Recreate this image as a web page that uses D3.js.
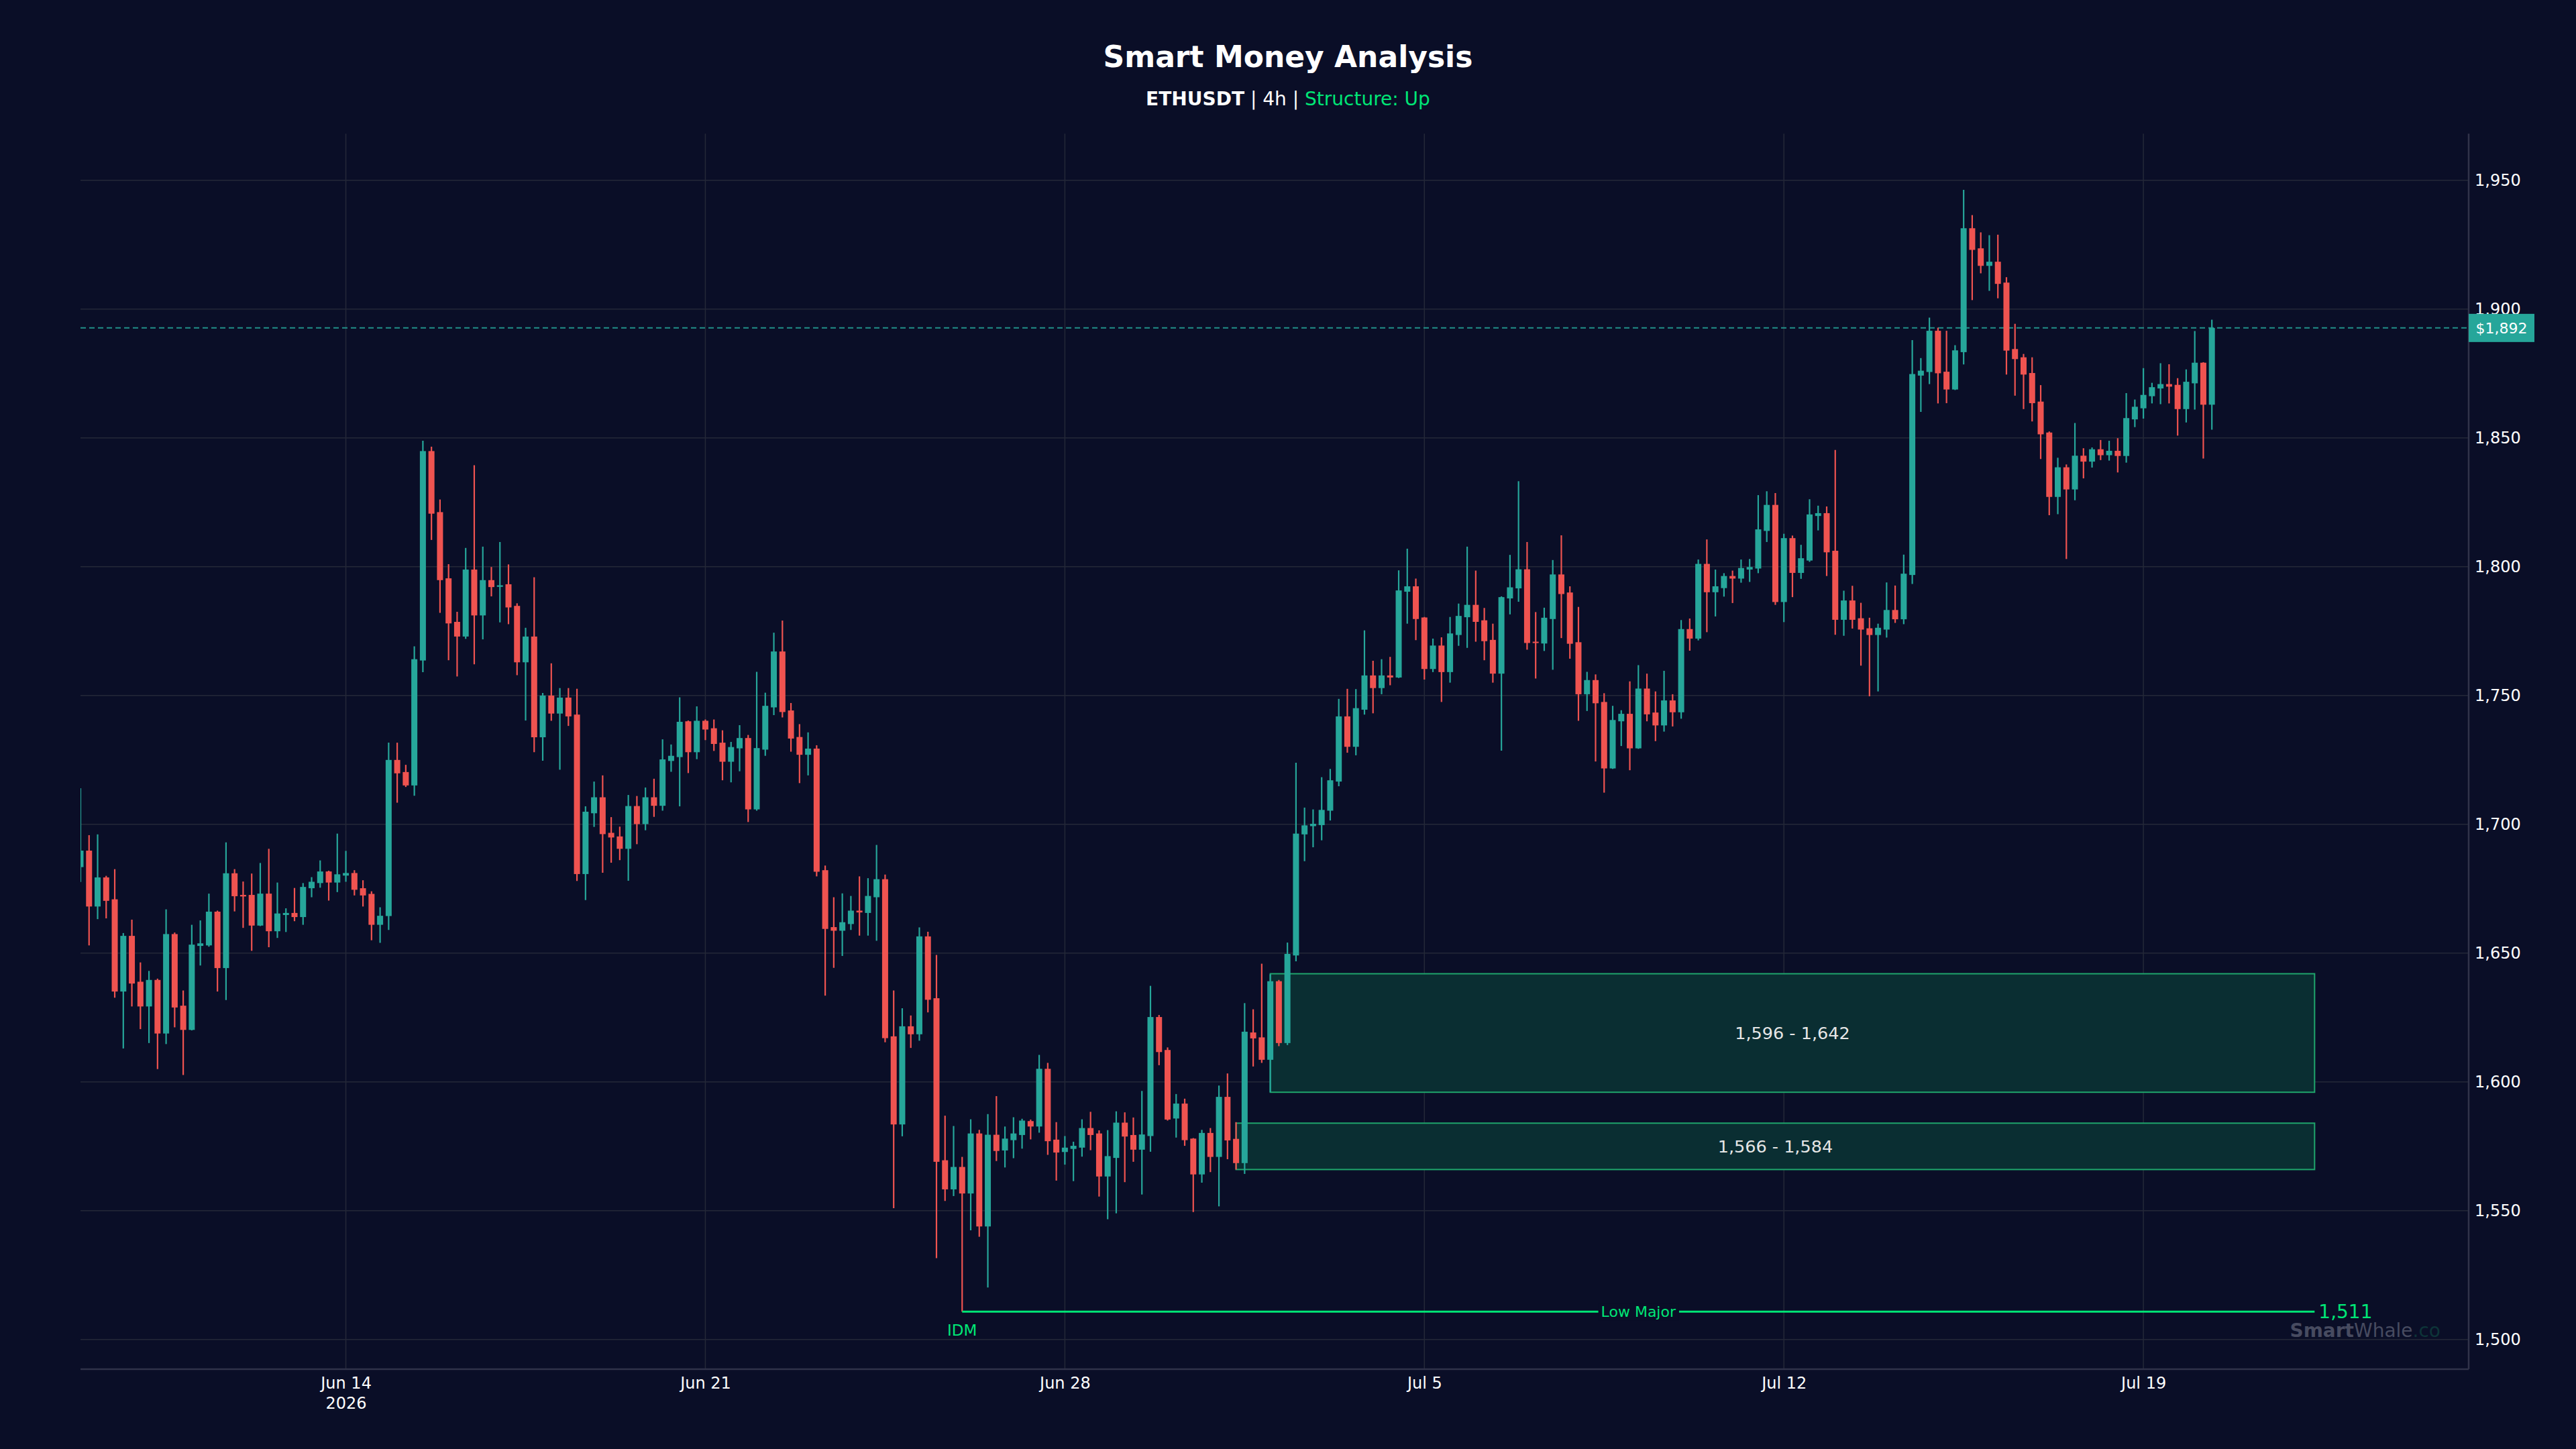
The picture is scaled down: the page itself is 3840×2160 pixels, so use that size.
<!DOCTYPE html>
<html>
<head>
<meta charset="utf-8">
<script src="https://cdn.jsdelivr.net/npm/d3@7"></script>
<style>
body { margin: 0; background: #0a0e27; }
text { font-family: 'DejaVu Sans', sans-serif; }
</style>
</head>
<body>
<div class="chart"></div>
<script>
// ETHUSDT 4h candles, first one opens Jun 8 2026 20:00 UTC
const firstCandle = Date.UTC(2026, 5, 8, 20)
const stepMs = 4 * 3600 * 1000

const opens = [
1683.4,1689.8,1668.1,1679.4,1670.9,1635.1,1656.7,1638.9,1629.3,1639.6,
1618.8,1657.4,1629.6,1620.2,1652.8,1653.0,1666.1,1644.2,1681.0,1672.6,
1672.6,1660.7,1673.1,1658.5,1664.8,1665.6,1664.0,1675.2,1677.2,1681.7,
1677.4,1680.1,1681.1,1675.2,1673.0,1661.0,1664.4,1725.0,1720.3,1715.1,
1763.6,1844.9,1821.2,1795.5,1778.6,1772.9,1798.9,1781.1,1794.8,1792.2,
1793.2,1784.8,1762.9,1772.9,1733.8,1750.0,1743.0,1749.2,1742.6,1680.7,
1704.3,1710.5,1696.7,1695.3,1690.5,1707.1,1700.1,1710.5,1707.2,1724.6,
1726.1,1740.0,1728.0,1740.2,1737.3,1731.7,1724.3,1729.5,1733.5,1705.8,
1729.0,1745.4,1767.1,1744.2,1733.9,1727.0,1729.4,1682.2,1660.1,1658.7,
1661.3,1666.5,1665.6,1671.7,1678.7,1617.7,1583.5,1621.6,1618.5,1656.5,
1632.5,1569.6,1558.3,1567.0,1556.7,1580.0,1543.9,1579.5,1573.4,1577.4,
1579.4,1584.8,1582.7,1605.1,1577.6,1572.8,1574.0,1574.5,1582.1,1580.0,
1563.3,1570.5,1584.2,1579.4,1573.7,1579.0,1625.2,1612.4,1585.8,1591.6,
1578.0,1564.1,1580.2,1570.9,1594.2,1577.9,1568.5,1619.2,1617.3,1608.6,
1639.1,1615.1,1649.1,1696.1,1699.3,1699.7,1705.3,1716.6,1741.9,1730.1,
1744.5,1757.8,1752.9,1757.8,1757.0,1790.3,1792.4,1780.3,1760.3,1769.4,
1759.1,1773.5,1780.4,1785.2,1779.2,1771.6,1758.5,1787.7,1791.6,1799.0,
1770.9,1770.2,1779.7,1797.0,1790.0,1770.7,1750.5,1756.0,1747.5,1721.7,
1740.0,1742.9,1729.5,1752.7,1743.4,1738.4,1748.1,1743.5,1775.8,1772.1,
1801.1,1790.1,1791.7,1796.4,1795.4,1798.9,1799.3,1813.9,1824.0,1786.3,
1811.1,1797.6,1802.4,1819.7,1820.8,1806.2,1779.4,1786.9,1780.0,1776.1,
1773.5,1775.6,1783.2,1779.6,1796.8,1874.2,1875.6,1891.6,1875.7,1868.8,
1883.3,1931.4,1923.6,1916.8,1918.4,1910.3,1884.5,1881.3,1875.2,1864.1,
1852.1,1827.1,1838.6,1830.0,1843.1,1840.8,1845.6,1843.3,1845.0,1843.0,
1857.2,1861.5,1866.2,1869.2,1870.9,1870.6,1861.2,1871.2,1879.2,1862.9]

const highs = [
1714.0,1695.8,1696.1,1680.0,1682.6,1657.8,1663.0,1646.4,1643.1,1640.1,
1667.0,1658.0,1635.5,1661.0,1662.7,1673.1,1666.5,1693.0,1682.6,1677.8,
1680.9,1685.0,1690.5,1677.4,1667.4,1675.3,1677.2,1679.5,1686.0,1682.0,
1696.4,1689.7,1682.2,1678.3,1674.0,1667.8,1731.7,1731.7,1723.1,1769.1,
1848.9,1846.6,1826.1,1801.0,1782.5,1807.3,1839.4,1807.8,1799.9,1809.6,
1800.9,1785.8,1776.3,1795.9,1751.0,1762.5,1752.9,1752.9,1752.6,1707.0,
1716.6,1719.0,1702.8,1699.1,1711.4,1711.0,1714.3,1717.7,1733.0,1731.0,
1749.3,1740.3,1745.8,1740.7,1740.7,1736.5,1732.0,1738.5,1734.7,1759.2,
1751.1,1774.4,1779.1,1747.1,1738.9,1735.7,1730.7,1684.0,1671.7,1673.2,
1672.2,1679.8,1679.1,1692.0,1680.5,1635.5,1628.6,1625.8,1660.0,1658.3,
1649.3,1586.9,1582.9,1570.9,1585.5,1581.4,1587.5,1594.5,1582.7,1586.3,
1585.7,1585.4,1610.5,1607.4,1584.4,1579.0,1576.8,1585.5,1588.4,1581.2,
1581.3,1588.6,1588.2,1586.2,1596.5,1637.3,1626.0,1613.4,1595.3,1593.5,
1578.2,1581.4,1582.1,1598.6,1603.3,1584.4,1630.6,1628.2,1645.9,1641.8,
1639.6,1654.1,1723.9,1706.5,1705.8,1718.3,1721.5,1748.7,1752.6,1752.5,
1775.3,1763.5,1764.1,1765.0,1798.6,1807.0,1795.4,1780.5,1772.1,1772.6,
1780.5,1785.7,1807.8,1798.5,1784.0,1777.9,1788.5,1804.6,1833.2,1809.6,
1782.4,1784.1,1802.6,1812.2,1792.4,1784.4,1759.2,1758.2,1750.9,1746.0,
1744.3,1755.5,1761.8,1758.5,1751.6,1759.6,1750.5,1779.3,1779.9,1802.8,
1810.6,1798.9,1797.5,1798.5,1802.8,1803.0,1827.8,1829.3,1828.6,1812.8,
1812.1,1808.5,1826.2,1823.7,1823.4,1845.3,1790.7,1792.6,1786.0,1780.2,
1777.9,1793.9,1792.7,1804.7,1888.0,1881.0,1896.7,1892.8,1891.6,1886.0,
1946.3,1936.5,1929.8,1928.7,1928.9,1912.4,1894.3,1882.6,1881.3,1870.5,
1852.5,1842.3,1839.7,1855.8,1846.0,1846.3,1849.2,1848.9,1849.9,1867.4,
1864.9,1877.1,1871.4,1879.0,1878.6,1873.2,1876.6,1891.5,1879.4,1895.9]

const lows = [
1677.6,1653.0,1663.2,1663.5,1632.7,1613.0,1629.3,1620.5,1615.1,1605.0,
1614.7,1621.2,1602.7,1620.0,1645.2,1652.5,1635.1,1631.8,1666.2,1659.8,
1650.9,1660.5,1652.3,1655.9,1658.2,1662.4,1661.0,1671.7,1675.4,1670.4,
1673.7,1677.7,1672.4,1668.1,1655.0,1654.0,1659.0,1708.4,1714.5,1711.1,
1759.1,1810.4,1782.1,1763.7,1757.4,1772.0,1762.1,1771.8,1788.5,1778.4,
1777.7,1757.9,1740.3,1728.0,1724.7,1740.2,1721.2,1738.2,1678.0,1670.6,
1699.0,1681.2,1685.1,1686.1,1678.1,1692.3,1697.7,1702.9,1705.3,1720.4,
1707.0,1719.9,1725.3,1732.7,1728.5,1717.1,1716.3,1720.6,1700.9,1705.3,
1726.6,1742.4,1741.5,1728.2,1716.0,1719.0,1679.8,1633.5,1644.3,1648.9,
1659.0,1656.8,1656.8,1654.8,1615.4,1551.0,1578.9,1613.2,1616.0,1627.0,
1531.6,1553.8,1555.7,1510.8,1542.4,1539.9,1520.2,1569.3,1566.8,1570.4,
1574.1,1577.7,1580.3,1571.7,1561.7,1567.9,1561.5,1571.0,1573.5,1555.5,
1546.7,1549.0,1561.1,1569.0,1556.3,1572.9,1606.5,1585.0,1578.4,1575.2,
1549.5,1560.9,1565.0,1551.7,1570.0,1566.0,1564.3,1606.0,1607.4,1596.0,
1613.9,1614.3,1646.8,1685.7,1691.1,1693.8,1701.5,1714.8,1727.8,1726.8,
1742.6,1743.1,1750.5,1754.0,1756.8,1777.9,1771.5,1756.2,1759.1,1747.5,
1755.0,1769.3,1768.5,1770.9,1763.7,1755.0,1728.6,1781.5,1786.4,1767.8,
1756.6,1767.3,1760.0,1772.3,1764.3,1740.2,1744.0,1724.4,1712.3,1721.5,
1730.4,1721.0,1729.3,1740.0,1732.3,1736.0,1738.0,1741.0,1767.4,1771.4,
1774.6,1780.7,1788.4,1785.9,1793.8,1794.1,1797.5,1809.6,1785.2,1778.5,
1788.2,1795.3,1801.9,1814.1,1796.4,1773.6,1773.2,1776.0,1761.6,1749.7,
1751.6,1772.5,1778.2,1777.7,1793.3,1860.1,1870.9,1863.4,1863.5,1868.6,
1878.5,1903.5,1913.9,1907.1,1904.2,1874.6,1866.4,1861.2,1856.4,1841.8,
1820.0,1820.4,1803.0,1825.8,1834.3,1838.5,1841.4,1841.2,1836.6,1840.4,
1854.2,1857.5,1863.4,1863.1,1863.4,1850.9,1856.0,1861.0,1842.0,1853.2]

const closes = [
1689.8,1668.1,1679.4,1670.3,1635.1,1656.7,1638.2,1629.3,1639.6,1618.8,
1657.4,1628.9,1620.2,1653.3,1653.8,1666.1,1644.2,1681.0,1672.1,1672.0,
1660.7,1673.1,1658.5,1665.4,1665.6,1664.0,1675.7,1677.7,1681.7,1677.4,
1680.6,1681.1,1674.6,1672.4,1661.0,1664.5,1725.0,1719.8,1715.1,1764.1,
1844.9,1820.6,1794.8,1778.0,1772.9,1798.9,1781.1,1794.8,1792.1,1792.8,
1784.2,1762.9,1772.9,1733.8,1750.0,1743.0,1749.2,1741.9,1680.7,1704.9,
1710.5,1696.2,1694.9,1690.5,1707.1,1700.1,1710.5,1707.2,1725.2,1726.6,
1739.8,1728.0,1740.2,1736.8,1731.2,1724.3,1730.0,1733.5,1705.8,1729.6,
1746.0,1767.1,1743.6,1733.3,1727.0,1729.4,1681.6,1659.4,1658.7,1662.0,
1666.5,1665.8,1672.2,1678.7,1617.0,1583.5,1621.6,1618.5,1656.5,1631.9,
1569.0,1558.3,1567.0,1556.7,1580.0,1543.9,1579.5,1573.2,1578.0,1580.0,
1585.0,1582.7,1605.1,1577.0,1572.6,1574.5,1575.2,1582.1,1579.4,1563.3,
1571.2,1584.2,1578.8,1573.7,1579.6,1625.2,1611.6,1585.4,1591.6,1577.4,
1564.1,1580.2,1570.9,1594.2,1577.3,1568.5,1619.5,1616.9,1608.6,1639.1,
1615.1,1649.7,1696.4,1699.6,1700.2,1705.6,1717.1,1741.9,1730.1,1745.1,
1757.8,1752.9,1757.8,1757.0,1790.8,1792.4,1779.7,1760.3,1769.4,1759.1,
1774.1,1780.9,1785.2,1778.6,1771.1,1758.5,1788.2,1792.0,1799.0,1770.4,
1770.4,1780.2,1797.0,1789.4,1770.1,1750.5,1756.0,1747.0,1721.7,1740.5,
1742.9,1729.5,1752.7,1742.7,1738.4,1748.1,1743.5,1775.8,1772.1,1801.1,
1790.1,1792.4,1796.4,1795.4,1799.5,1799.9,1814.5,1824.0,1786.3,1811.1,
1797.6,1803.3,1820.3,1820.8,1805.6,1779.4,1786.9,1779.4,1775.6,1773.5,
1776.3,1783.2,1779.6,1797.3,1874.8,1876.1,1891.6,1875.1,1868.8,1884.0,
1931.4,1923.0,1916.8,1918.4,1909.8,1883.9,1880.6,1874.6,1863.5,1851.4,
1827.1,1838.6,1830.0,1843.1,1840.8,1845.6,1843.3,1845.0,1843.0,1857.7,
1862.1,1866.7,1869.7,1870.9,1869.9,1861.2,1871.8,1879.2,1862.9,1892.7]

const xTicks = ['2026-06-14', '2026-06-21', '2026-06-28', '2026-07-05', '2026-07-12', '2026-07-19']
const yTicks = [1500, 1550, 1600, 1650, 1700, 1750, 1800, 1850, 1900, 1950]

// order blocks: candle index where the zone starts, price bottom / top
const zoneStart = [139, 135]
const zoneLow = [1596, 1566]
const zoneHigh = [1642, 1584]
const zoneEnd = '2026-07-22T08:00:00Z'

const lowMajor = 1510.8
const lowMajorCandle = 103

const width = 3840
const height = 2160
const plotLeft = 120, plotRight = 3680, plotTop = 199.3, plotBottom = 2041

const up = '#26a69a'
const down = '#ef5350'
const green = '#00e676'
const bg = '#0a0e27'

var candles = opens.map((o, i) => ({
    t: new Date(firstCandle + i * stepMs),
    o: o, h: highs[i], l: lows[i], c: closes[i]
}))

var svg = d3.select('.chart').append('svg').attr('width', width).attr('height', height)
svg.append('rect').attr('width', width).attr('height', height).attr('fill', bg)

var x = d3.scaleUtc()
    .domain([new Date(firstCandle), new Date('2026-07-25T08:00:00Z')])
    .range([plotLeft, plotRight])
var y = d3.scaleLinear().domain([1488.5, 1968.1]).range([plotBottom, plotTop])

svg.append('defs').append('clipPath').attr('id', 'plot')
    .append('rect').attr('x', plotLeft).attr('y', plotTop)
    .attr('width', plotRight - plotLeft).attr('height', plotBottom - plotTop)

// grid
var grid = svg.append('g')
grid.selectAll('.hg').data(yTicks).enter().append('line')
    .attr('x1', plotLeft).attr('x2', plotRight)
    .attr('y1', d => y(d)).attr('y2', d => y(d))
    .attr('stroke', '#242838').attr('stroke-width', 1.5)
grid.selectAll('.vg').data(xTicks).enter().append('line')
    .attr('x1', d => x(new Date(d))).attr('x2', d => x(new Date(d)))
    .attr('y1', plotTop).attr('y2', plotBottom)
    .attr('stroke', '#242838').attr('stroke-width', 1.5)

// axes
var yaxis = d3.axisRight(y).tickValues(yTicks).tickSize(0).tickPadding(9).tickFormat(d3.format(','))
var ya = svg.append('g').attr('transform', `translate(${plotRight},0)`).call(yaxis)
ya.select('.domain').attr('stroke', '#30334a').attr('stroke-width', 2.5).attr('d', `M0,${plotTop}V${plotBottom}`)
ya.selectAll('text').attr('fill', '#ffffff').style('font-size', '24px').style('font-family', 'DejaVu Sans')

var xaxis = d3.axisBottom(x).tickValues(xTicks.map(d => new Date(d))).tickSize(0).tickPadding(12)
    .tickFormat(d3.utcFormat('%b %-d'))
var xa = svg.append('g').attr('transform', `translate(0,${plotBottom})`).call(xaxis)
xa.select('.domain').attr('stroke', '#30334a').attr('stroke-width', 2.5).attr('d', `M${plotLeft},0H${plotRight}`)
xa.selectAll('text').attr('fill', '#ffffff').style('font-size', '24px').style('font-family', 'DejaVu Sans')
xa.select('.tick text').append('tspan').attr('x', 0).attr('dy', '1.25em').text('2026')

var plot = svg.append('g').attr('clip-path', 'url(#plot)')

// zones
var zones = zoneStart.map((s, i) => ({ start: candles[s].t, lo: zoneLow[i], hi: zoneHigh[i] }))
plot.selectAll('.zone').data(zones).enter().append('rect')
    .attr('x', d => x(d.start))
    .attr('y', d => y(d.hi))
    .attr('width', d => x(new Date(zoneEnd)) - x(d.start))
    .attr('height', d => y(d.lo) - y(d.hi))
    .attr('fill', '#0a2e32')
    .attr('stroke', '#1fa56c').attr('stroke-width', 2)

// current price line
var last = candles[candles.length - 1]
plot.append('line')
    .attr('x1', plotLeft).attr('x2', plotRight)
    .attr('y1', y(last.c)).attr('y2', y(last.c))
    .attr('stroke', up).attr('stroke-opacity', 0.85).attr('stroke-width', 2)
    .attr('stroke-dasharray', '8,5')

// candles
var bw = 9
var cg = plot.selectAll('.candle').data(candles).enter().append('g')
cg.append('line')
    .attr('x1', d => x(d.t)).attr('x2', d => x(d.t))
    .attr('y1', d => y(d.h)).attr('y2', d => y(d.l))
    .attr('stroke', d => d.c >= d.o ? up : down).attr('stroke-width', 2.2)
cg.append('rect')
    .attr('x', d => x(d.t) - bw / 2)
    .attr('y', d => y(Math.max(d.o, d.c)))
    .attr('width', bw)
    .attr('height', d => Math.max(2, Math.abs(y(d.o) - y(d.c))))
    .attr('fill', d => d.c >= d.o ? up : down)

// zone labels
svg.selectAll('.zl').data(zones).enter().append('text')
    .attr('x', d => (x(d.start) + x(new Date(zoneEnd))) / 2)
    .attr('y', d => y((d.lo + d.hi) / 2))
    .attr('dy', '0.35em')
    .attr('text-anchor', 'middle')
    .attr('fill', '#e6e6e6').style('font-size', '25.5px')
    .text(d => `${d3.format(',')(d.lo)} - ${d3.format(',')(d.hi)}`)

// low major liquidity line
var lx1 = x(candles[lowMajorCandle].t), lx2 = x(new Date(zoneEnd)), ly = y(lowMajor)
svg.append('line').attr('x1', lx1).attr('x2', lx2).attr('y1', ly).attr('y2', ly)
    .attr('stroke', green).attr('stroke-width', 3)
var lm = svg.append('g')
var lmText = lm.append('text').attr('x', (lx1 + lx2) / 2).attr('y', ly).attr('dy', '0.35em')
    .attr('text-anchor', 'middle').attr('fill', green).style('font-size', '22px').text('Low Major')
var bb = lmText.node().getBBox()
lm.insert('rect', 'text').attr('x', bb.x - 4).attr('y', bb.y).attr('width', bb.width + 8).attr('height', bb.height)
    .attr('fill', bg)
svg.append('text').attr('x', lx2 + 6).attr('y', ly).attr('dy', '0.35em')
    .attr('fill', green).style('font-size', '28px').text(d3.format(',.0f')(lowMajor))
svg.append('text').attr('x', lx1).attr('y', ly + 36).attr('text-anchor', 'middle')
    .attr('fill', green).style('font-size', '23px').text('IDM')

// price tag
svg.append('rect').attr('x', plotRight).attr('y', y(last.c) - 21).attr('width', 98).attr('height', 42).attr('fill', up)
svg.append('text').attr('x', plotRight + 49).attr('y', y(last.c)).attr('dy', '0.35em').attr('text-anchor', 'middle')
    .attr('fill', '#ffffff').style('font-size', '22px').text('$' + d3.format(',.0f')(Math.floor(last.c)))

// watermark
var wm = svg.append('text').attr('x', 3638).attr('y', 1993).attr('text-anchor', 'end').style('font-size', '28px')
wm.append('tspan').attr('fill', '#474b60').attr('font-weight', 'bold').text('Smart')
wm.append('tspan').attr('fill', '#474b60').text('Whale')
wm.append('tspan').attr('fill', '#0d3438').text('.co')

// titles
svg.append('text').attr('x', width / 2).attr('y', 100).attr('text-anchor', 'middle')
    .attr('fill', '#ffffff').attr('font-weight', 'bold').style('font-size', '44px').text('Smart Money Analysis')
var sub = svg.append('text').attr('x', width / 2).attr('y', 157).attr('text-anchor', 'middle').style('font-size', '28px')
sub.append('tspan').attr('fill', '#ffffff').attr('font-weight', 'bold').text('ETHUSDT')
sub.append('tspan').attr('fill', '#ffffff').text(' | 4h | ')
sub.append('tspan').attr('fill', green).text('Structure: Up')
</script>
</body>
</html>
